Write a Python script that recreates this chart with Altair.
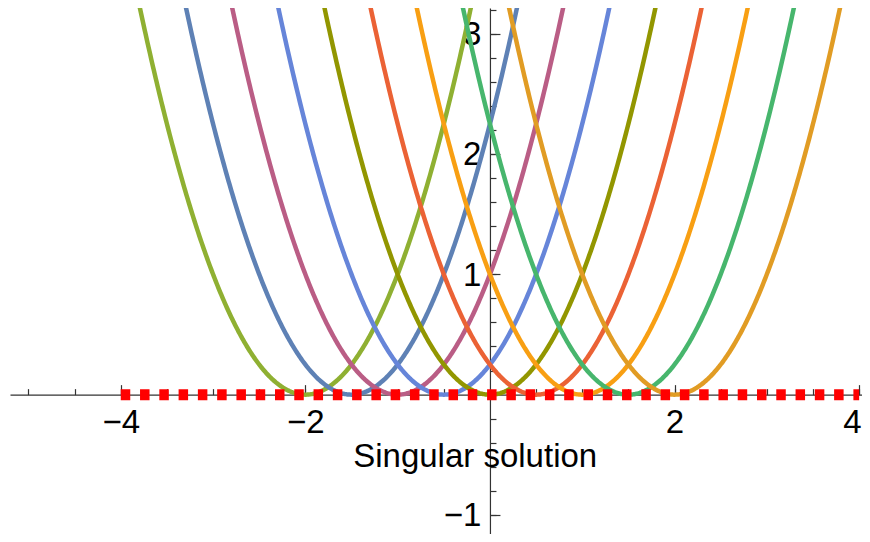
import altair as alt
import numpy as np
import pandas as pd

# ---- data ----
centers = [-2.0, -1.5, -1.0, -0.5, 0.0, 0.5, 1.0, 1.5, 2.0]   # vertex x of each parabola y=(x-c)^2
colors = ["#8FB032", "#5E81B5", "#BA5D85", "#6685D9", "#929600",
          "#EB6235", "#F89F13", "#47B66D", "#E19C24"]
singular_x = [-4.0, 4.0]
singular_y = [0.0, 0.0]
x_major = [-4, -2, 2, 4]
y_major = [-1, 1, 2, 3]
x_minor = [-5.0, -4.5, -4.0, -3.5, -3.0, -2.5, -2.0, -1.5, -1.0, -0.5, 0.0,
           0.5, 1.0, 1.5, 2.0, 2.5, 3.0, 3.5, 4.0]
y_minor = [-1.0, -0.8, -0.6, -0.4, -0.2, 0.0, 0.2, 0.4, 0.6, 0.8, 1.0, 1.2, 1.4,
           1.6, 1.8, 2.0, 2.2, 2.4, 2.6, 2.8, 3.0, 3.2]
label_text = ["Singular solution"]
label_x = [-0.16]
label_y = [-0.516]

# ---- layout ----
W, H = 852, 526
XMIN, XMAX = -5.2, 4.031
YMIN, YMAX = -1.158, 3.2127
x0 = W * (0 - XMIN) / (XMAX - XMIN)        # pixel of x = 0 inside plot
y0 = H * (YMAX - 0) / (YMAX - YMIN)        # pixel of y = 0 inside plot

FONT = "Liberation Sans"
FS = 33
AX = "#333333"

xs = np.linspace(XMIN, XMAX, 925)
rows = []
for c in centers:
    for x in xs:
        rows.append({"x": x, "y": (x - c) ** 2, "c": f"c={c}"})
df = pd.DataFrame(rows)

red_df = pd.DataFrame({"x": singular_x, "y": singular_y})
txt_df = pd.DataFrame({"x": label_x, "y": label_y, "t": label_text})

XS = alt.Scale(domain=[XMIN, XMAX], nice=False, zero=False)
YS = alt.Scale(domain=[YMIN, YMAX], nice=False, zero=False)

common = dict(grid=False, title=None, domainColor=AX, tickColor=AX,
              labelColor="black", labelFont=FONT, labelFontSize=FS,
              labelOverlap=False, domainWidth=1.2, tickWidth=1.2)

x_lab_axis = alt.Axis(orient="bottom", offset=y0 - H, values=x_major, format="d",
                      ticks=False, tickSize=0, domain=True, labelPadding=12,
                      labelFlush=5, labelFlushOffset=2, **common)
y_lab_axis = alt.Axis(orient="left", offset=-x0, values=y_major, format="d",
                      ticks=False, tickSize=0, domain=True, labelPadding=9,
                      labelOffset=1, labelFlush=False, **common)
x_min_axis = alt.Axis(orient="top", offset=-y0,
                      values=[v for v in x_minor if XMIN <= v <= XMAX], labels=False,
                      domain=False, ticks=True, tickSize=6, **common)
y_min_axis = alt.Axis(orient="right", offset=x0 - W,
                      values=[v for v in y_minor if YMIN <= v <= YMAX],
                      labels=False, domain=False, ticks=True, tickSize=6, **common)
x_maj_axis = alt.Axis(orient="top", offset=-y0, values=x_major, labels=False,
                      domain=False, ticks=True, tickSize=10, **common)
y_maj_axis = alt.Axis(orient="right", offset=x0 - W, values=y_major, labels=False,
                      domain=False, ticks=True, tickSize=10, **common)

curves = alt.Chart(df).mark_line(strokeWidth=4.5, clip=True).encode(
    x=alt.X("x:Q", scale=XS, axis=x_lab_axis),
    y=alt.Y("y:Q", scale=YS, axis=y_lab_axis),
    color=alt.Color("c:N", scale=alt.Scale(domain=[f"c={c}" for c in centers], range=colors),
                    legend=None),
)

singular = alt.Chart(red_df).mark_line(color="#FF0000", strokeWidth=11,
                                       strokeDash=[9.5, 9.78], strokeCap="butt").encode(
    x=alt.X("x:Q", scale=XS, axis=x_min_axis),
    y=alt.Y("y:Q", scale=YS, axis=y_min_axis),
)

label = alt.Chart(txt_df).mark_text(font=FONT, fontSize=FS, align="center",
                                    baseline="middle", color="black").encode(
    x=alt.X("x:Q", scale=XS, axis=x_maj_axis),
    y=alt.Y("y:Q", scale=YS, axis=y_maj_axis),
    text="t:N",
)

chart = alt.layer(curves, singular, label).resolve_axis(
    x="independent", y="independent"
).properties(
    width=W, height=H,
    autosize=alt.AutoSizeParams(type="none"),
    padding={"left": 2, "top": 0, "right": 0, "bottom": 0},
    background="white",
).configure_view(stroke=None)

chart.save("out.html", embed_options={"renderer": "svg", "actions": False})
